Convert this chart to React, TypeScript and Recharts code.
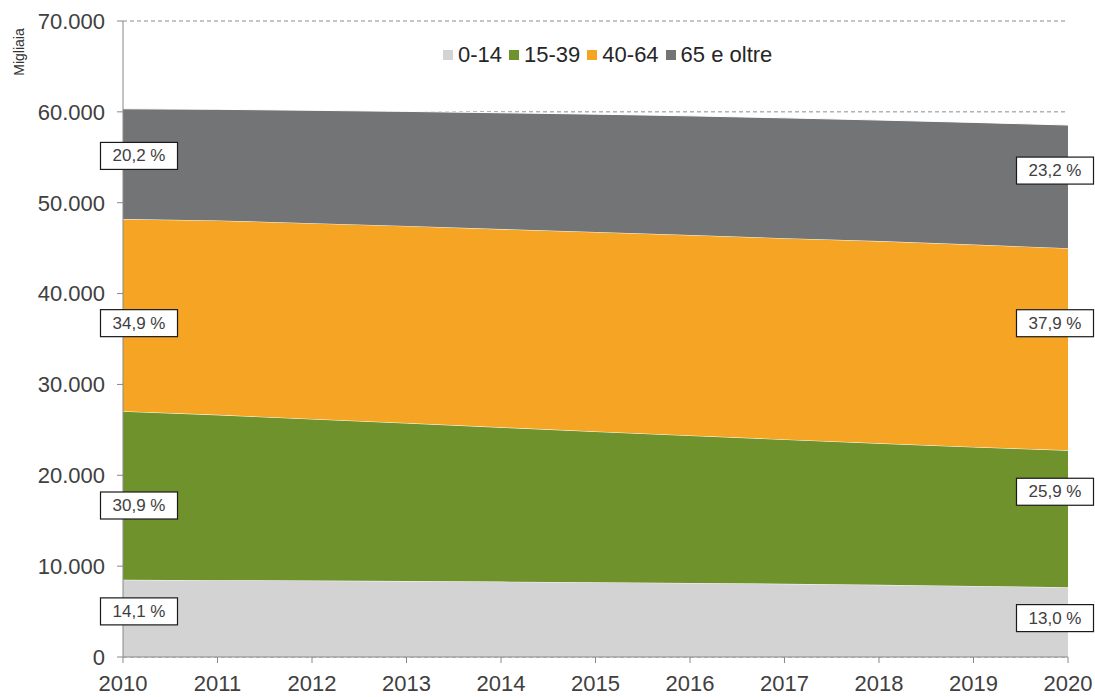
import { AreaChart, Area, CartesianGrid, XAxis, YAxis, ReferenceDot } from "recharts";

const years = [2010, 2011, 2012, 2013, 2014, 2015, 2016, 2017, 2018, 2019, 2020];
// migliaia
const age0_14 = [8500, 8450, 8410, 8360, 8300, 8230, 8150, 8060, 7950, 7820, 7680];
const age15_39 = [18550, 18200, 17790, 17390, 16980, 16590, 16230, 15890, 15570, 15300, 15070];
const age40_64 = [21150, 21400, 21550, 21700, 21820, 21960, 22070, 22150, 22260, 22280, 22250];
const age65 = [12140, 12230, 12420, 12600, 12800, 12970, 13110, 13240, 13320, 13440, 13550];

const yTicks = [0, 10000, 20000, 30000, 40000, 50000, 60000, 70000];

const shares2010 = ["14,1 %", "30,9 %", "34,9 %", "20,2 %"];
const shares2020 = ["13,0 %", "25,9 %", "37,9 %", "23,2 %"];

const series = [
  { key: "a", name: "0-14", color: "#d3d3d3", values: age0_14 },
  { key: "b", name: "15-39", color: "#70922c", values: age15_39 },
  { key: "c", name: "40-64", color: "#f5a523", values: age40_64 },
  { key: "d", name: "65 e oltre", color: "#737476", values: age65 },
];

const data = years.map((year, i) => {
  const row: any = { year };
  series.forEach((s) => (row[s.key] = s.values[i]));
  return row;
});

// midpoint of each band at a given index, in data units
function bandMid(i: number, band: number) {
  let low = 0;
  for (let b = 0; b < band; b++) low += series[b].values[i];
  return low + series[band].values[i] / 2;
}

// pixel nudges so the boxes sit where the original put them
const leftDy = [-7, 10, 8, -8];
const rightDy = [-4, -27, -26, -16];

const fmt = (v: number) => String(v).replace(/\B(?=(\d{3})+(?!\d))/g, ".");

const font = "'Liberation Sans', Arial, sans-serif";

function ShareBox(props: any) {
  const { cx, cy, text, dx, dy } = props;
  if (cx == null || cy == null) return null;
  const w = 77;
  const h = 27;
  const x = cx + dx;
  const y = cy + dy;
  return (
    <g>
      <rect x={x - w / 2} y={y - h / 2} width={w} height={h} fill="#fff" stroke="#1a1a1a" strokeWidth={1.2} />
      <text x={x} y={y} textAnchor="middle" dominantBaseline="central" fontSize={17} fill="#404040" fontFamily={font}>
        {text}
      </text>
    </g>
  );
}

function LegendBox() {
  return (
    <div
      style={{
        position: "absolute",
        left: 443,
        top: 41,
        display: "flex",
        alignItems: "center",
        fontFamily: font,
        fontSize: 22,
        color: "#262626",
        lineHeight: "28px",
      }}
    >
      {series.map((s) => (
        <div key={s.key} style={{ display: "flex", alignItems: "center", marginRight: 7 }}>
          <span style={{ width: 10, height: 10, background: s.color, display: "inline-block", marginRight: 5 }} />
          <span>{s.name}</span>
        </div>
      ))}
    </div>
  );
}

export default function App() {
  const last = years.length - 1;
  return (
    <div style={{ position: "absolute", left: 0, top: 0, width: 1095, height: 697, background: "#fff" }}>
      <AreaChart width={1095} height={697} data={data} margin={{ top: 21, right: 27, left: 0, bottom: 0 }}>
        <CartesianGrid vertical={false} stroke="#8c8c8c" strokeDasharray="4 3" />
        <XAxis
          dataKey="year"
          interval={0}
          height={40}
          tickSize={6}
          tickMargin={12}
          stroke="#888"
          tick={{ fontSize: 22, fill: "#404040", fontFamily: font }}
        />
        <YAxis
          width={123}
          domain={[0, 70000]}
          ticks={yTicks}
          tickFormatter={fmt}
          tickSize={6}
          tickMargin={12}
          stroke="#888"
          tick={{ fontSize: 22, fill: "#404040", fontFamily: font }}
          label={{
            content: (p: any) => (
              <text
                x={(p.viewBox?.x ?? 0) + 19}
                y={(p.viewBox?.y ?? 21) + 31}
                transform={`rotate(-90 ${(p.viewBox?.x ?? 0) + 19} ${(p.viewBox?.y ?? 21) + 31})`}
                textAnchor="middle"
                dominantBaseline="central"
                fontSize={14}
                fill="#333"
                fontFamily={font}
              >
                Migliaia
              </text>
            ),
          }}
        />
        {series.map((s) => (
          <Area
            key={s.key}
            type="linear"
            dataKey={s.key}
            name={s.name}
            stackId="1"
            fill={s.color}
            fillOpacity={1}
            stroke="#ffffff"
            strokeWidth={1}
            isAnimationActive={false}
          />
        ))}
        {series.map((s, b) => (
          <ReferenceDot
            key={"l" + s.key}
            x={years[0]}
            y={bandMid(0, b)}
            ifOverflow="visible"
            shape={(p: any) => <ShareBox {...p} text={shares2010[b]} dx={16} dy={leftDy[b]} />}
          />
        ))}
        {series.map((s, b) => (
          <ReferenceDot
            key={"r" + s.key}
            x={years[last]}
            y={bandMid(last, b)}
            ifOverflow="visible"
            shape={(p: any) => <ShareBox {...p} text={shares2020[b]} dx={-13} dy={rightDy[b]} />}
          />
        ))}
      </AreaChart>
      <LegendBox />
    </div>
  );
}
